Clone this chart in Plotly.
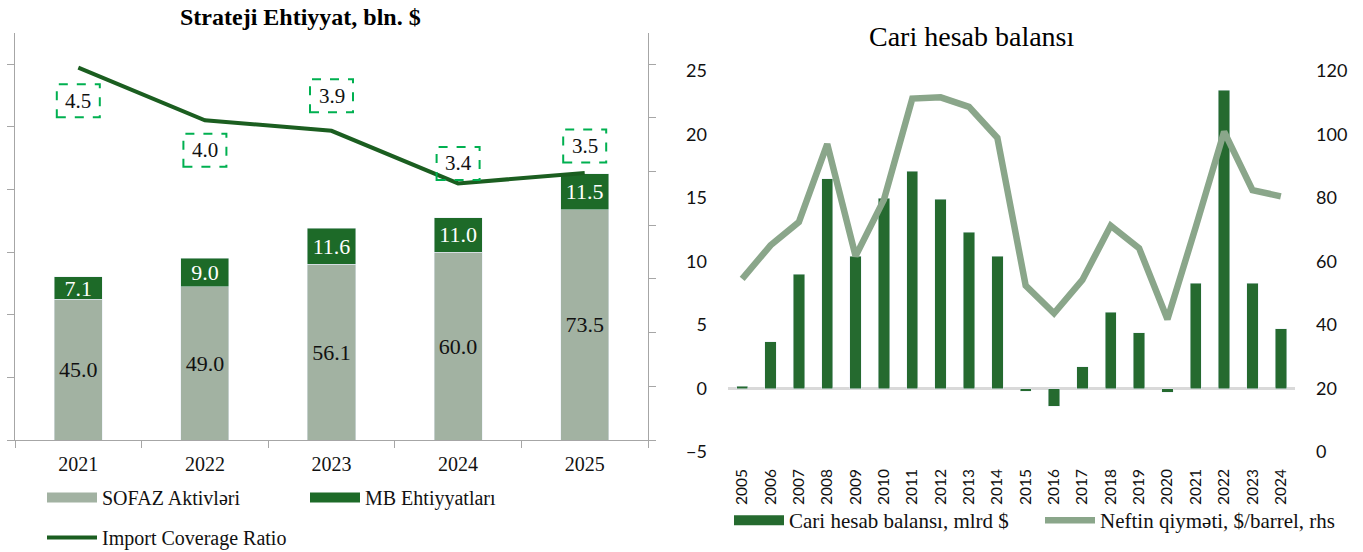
import plotly.graph_objects as go
from plotly.subplots import make_subplots

# ---------------- data ----------------
years_left = ["2021", "2022", "2023", "2024", "2025"]
sofaz_assets = [45.0, 49.0, 56.1, 60.0, 73.5]
mb_reserves = [7.1, 9.0, 11.6, 11.0, 11.5]
import_coverage = [4.5, 4.0, 3.9, 3.4, 3.5]

years_right = ["2005", "2006", "2007", "2008", "2009", "2010", "2011", "2012", "2013", "2014",
               "2015", "2016", "2017", "2018", "2019", "2020", "2021", "2022", "2023", "2024"]
current_account = [0.17, 3.7, 9.0, 16.5, 10.4, 15.0, 17.1, 14.9, 12.3, 10.4,
                   -0.2, -1.4, 1.7, 6.0, 4.4, -0.3, 8.3, 23.5, 8.3, 4.7]
oil_price = [54.5, 65.1, 72.4, 97.0, 61.7, 79.5, 111.3, 111.7, 108.7, 99.0,
             52.4, 43.7, 54.2, 71.3, 64.2, 41.8, 70.9, 100.9, 82.5, 80.5]

# label box offsets (pixels, + = above the point)
label_offsets = [-33, -30, 35, 20, 27]

W, H = 1363, 552
SERIF = "Liberation Serif"
SANS = "Lato"
C_SOFAZ = "#a2b2a2"
C_MB = "#1d6a28"
C_ICR = "#1b5e20"
C_CAB = "#256a2f"
C_OIL = "#8aa68a"
C_BOX = "#00b050"
AX = "#a6a6a6"
LEG_W = 50

fig = make_subplots(rows=1, cols=2, specs=[[{"secondary_y": True}, {"secondary_y": True}]])

# ---------- left chart ----------
fig.add_trace(go.Bar(x=years_left, y=sofaz_assets, name="SOFAZ Aktivləri", marker_color=C_SOFAZ,
                     width=0.38, text=[f"{v:.1f}" for v in sofaz_assets], textposition="inside",
                     insidetextanchor="middle", constraintext="none",
                     textfont=dict(family=SERIF, size=22, color="#111"), showlegend=False),
              row=1, col=1, secondary_y=False)
fig.add_trace(go.Bar(x=years_left, y=mb_reserves, name="MB Ehtiyyatları", marker_color=C_MB,
                     width=0.38, text=[f"{v:.1f}" for v in mb_reserves], textposition="inside",
                     insidetextanchor="middle", constraintext="none",
                     textfont=dict(family=SERIF, size=22, color="white"), showlegend=False),
              row=1, col=1, secondary_y=False)
fig.add_trace(go.Scatter(x=years_left, y=import_coverage, name="Import Coverage Ratio", mode="lines",
                         line=dict(color=C_ICR, width=4), legend="legend3"),
              row=1, col=1, secondary_y=True)
# legend swatches for the bars
fig.add_trace(go.Scatter(x=[None], y=[None], mode="lines", name="SOFAZ Aktivləri",
                         line=dict(color=C_SOFAZ, width=10), legend="legend"), row=1, col=1)
fig.add_trace(go.Scatter(x=[None], y=[None], mode="lines", name="MB Ehtiyyatları",
                         line=dict(color=C_MB, width=10), legend="legend2"), row=1, col=1)

# ---------- right chart ----------
fig.add_trace(go.Bar(x=years_right, y=current_account, name="Cari hesab balansı, mlrd $",
                     marker_color=C_CAB, width=0.4, showlegend=False),
              row=1, col=2, secondary_y=False)
fig.add_trace(go.Scatter(x=[None], y=[None], mode="lines", name="Cari hesab balansı, mlrd $",
                         line=dict(color=C_CAB, width=10), legend="legend4"), row=1, col=2)
fig.add_trace(go.Scatter(x=years_right, y=oil_price, name="Neftin qiymәti, $/barrel, rhs", mode="lines",
                         line=dict(color=C_OIL, width=6.5), legend="legend5"),
              row=1, col=2, secondary_y=True)

# ---------- axes ----------
LX = [15 / W, 648 / W]
LY = [1 - 440 / H, 1 - 33 / H]
RX = [728 / W, 1295 / W]
RY = [1 - 452 / H, 1 - 71 / H]

fig.update_layout(
    xaxis=dict(domain=LX, type="category", range=[-0.5, len(years_left) - 0.5], showline=True,
               linecolor=AX, linewidth=1, ticks="outside", tickson="boundaries", ticklen=7, tickcolor=AX,
               tickangle=0, tickfont=dict(family=SERIF, size=20, color="#111"), ticklabelstandoff=6,
               showgrid=False),
    yaxis=dict(domain=LY, range=[0, 130], dtick=20, showline=True, linecolor=AX, ticks="outside",
               ticklen=7, tickcolor=AX, showticklabels=False, showgrid=False, zeroline=False),
    yaxis2=dict(range=[0.963, 4.829], tick0=0.963, dtick=0.51, showline=True, linecolor=AX,
                ticks="outside", ticklen=7, tickcolor=AX, showticklabels=False, showgrid=False,
                zeroline=False),
    xaxis2=dict(domain=RX, type="category", range=[-0.5, len(years_right) - 0.5], showline=False,
                ticks="", tickangle=-90, tickfont=dict(family=SANS, size=15.5, color="#111"),
                ticklabelstandoff=13, showgrid=False),
    yaxis3=dict(domain=RY, range=[-5, 25], dtick=5, showline=False, showgrid=False,
                zeroline=True, zerolinecolor="#d9d9d9", zerolinewidth=3,
                tickfont=dict(family=SANS, size=18, color="#111"), ticklabelstandoff=20),
    yaxis4=dict(range=[0, 120], dtick=20, showline=False, showgrid=False, zeroline=False,
                tickfont=dict(family=SANS, size=18, color="#111"), ticklabelstandoff=20),
)

# ---------- data-label boxes on the coverage line ----------
for i, (val, off) in enumerate(zip(import_coverage, label_offsets)):
    fig.add_shape(type="rect", xref="x", yref="y2", xsizemode="pixel", ysizemode="pixel",
                  xanchor=i, yanchor=val, x0=-21.5, x1=21.5, y0=off - 16.5, y1=off + 16.5,
                  line=dict(color=C_BOX, width=2, dash="dash"), fillcolor="rgba(0,0,0,0)", layer="above")
    fig.add_annotation(x=i, y=val, xref="x", yref="y2", yshift=off, text=f"{val:.1f}",
                       xanchor="center", yanchor="middle",
                       showarrow=False, font=dict(family=SERIF, size=21, color="#111"))

# ---------- titles ----------
fig.add_annotation(x=300 / W, y=1 - 17 / H, xref="paper", yref="paper", showarrow=False,
                   xanchor="center", yanchor="middle",
                   text="<b>Strateji Ehtiyyat, bln. $</b>", font=dict(family=SERIF, size=24, color="#000"))
fig.add_annotation(x=971 / W, y=1 - 37 / H, xref="paper", yref="paper", showarrow=False,
                   xanchor="center", yanchor="middle",
                   text="Cari hesab balansı", font=dict(family=SERIF, size=28, color="#000"))


def leg(x_px, top_px, size):
    return dict(orientation="h", x=x_px / W, y=1 - top_px / H, xanchor="left", yanchor="top",
                itemwidth=LEG_W, font=dict(family=SERIF, size=size, color="#111"),
                bgcolor="rgba(0,0,0,0)")


fig.update_layout(
    width=W, height=H, margin=dict(l=0, r=0, t=0, b=0, autoexpand=False),
    paper_bgcolor="white", plot_bgcolor="white", barmode="stack",
    legend=leg(42, 478, 20),
    legend2=leg(305, 478, 20),
    legend3=leg(42, 518, 20),
    legend4=leg(729, 500, 21),
    legend5=leg(1040, 500, 21),
)

fig.write_html("out.html", config={"displayModeBar": False},
               post_script="document.body.style.margin='0';document.body.style.overflow='hidden';")
